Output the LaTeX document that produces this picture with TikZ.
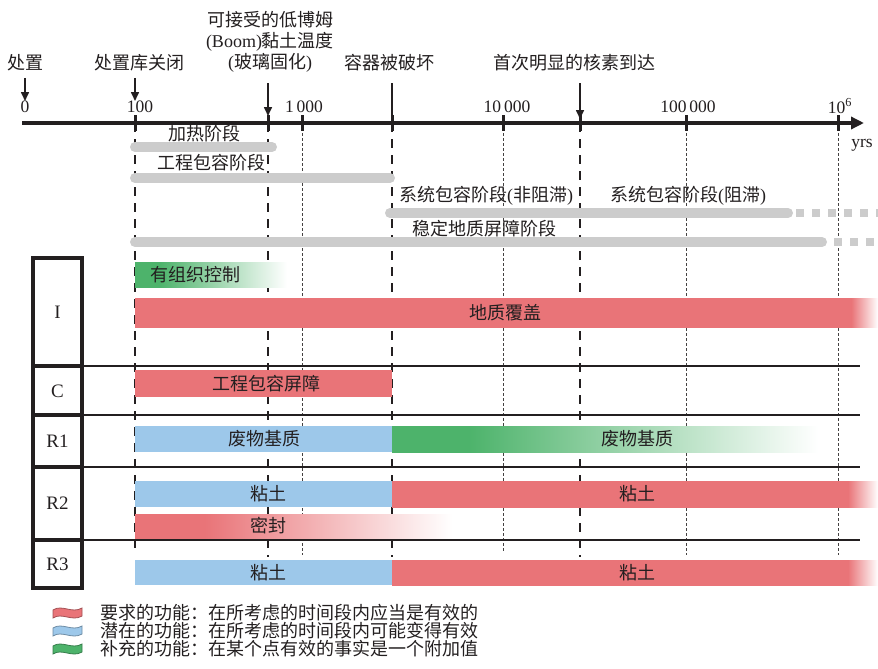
\documentclass[tikz,border=0pt]{standalone}
\usepackage{fontspec}
\setmainfont{Liberation Serif}
\newfontfamily\cjk{Noto Sans CJK SC}
\usetikzlibrary{arrows.meta,calc}
\definecolor{myred}{RGB}{233,116,120}
\definecolor{myblue}{RGB}{157,200,234}
\definecolor{mygreen}{RGB}{77,179,107}
\definecolor{mygrey}{RGB}{204,204,204}
\definecolor{ink}{RGB}{35,31,32}
% horizontal fades: path bbox maps to 25bp..75bp
\pgfdeclarehorizontalshading{fadeorg}{100bp}{color(0bp)=(mygreen); color(25bp)=(mygreen); color(33bp)=(mygreen); color(75bp)=(white); color(100bp)=(white)}
\pgfdeclarehorizontalshading{fadecover}{100bp}{color(0bp)=(myred); color(25bp)=(myred); color(73.2bp)=(myred); color(75bp)=(white); color(100bp)=(white)}
\pgfdeclarehorizontalshading{fadematrix}{100bp}{color(0bp)=(mygreen); color(25bp)=(mygreen); color(34bp)=(mygreen); color(75bp)=(white); color(100bp)=(white)}
\pgfdeclarehorizontalshading{fadeclay}{100bp}{color(0bp)=(myred); color(25bp)=(myred); color(71.9bp)=(myred); color(75bp)=(white); color(100bp)=(white)}
\pgfdeclarehorizontalshading{fadeseal}{100bp}{color(0bp)=(myred); color(25bp)=(myred); color(36bp)=(myred); color(75bp)=(white); color(100bp)=(white)}
\begin{document}
\begin{tikzpicture}[x=1pt,y=-1pt,
  lbl/.style={font=\cjk\fontsize{18}{20}\selectfont, text=ink, inner sep=0pt},
  num/.style={font=\fontsize{17.5}{19}\selectfont, text=ink, inner sep=0pt},
  rowlbl/.style={font=\fontsize{19}{21}\selectfont, text=ink, inner sep=0pt},
  thickdash/.style={line width=2.6pt, dash pattern=on 9pt off 7pt, draw=ink},
  thindash/.style={line width=0.8pt, dash pattern=on 3pt off 2pt, draw=ink!85},
  phase/.style={line width=10pt, draw=mygrey, line cap=round},
  phasedash/.style={line width=8pt, draw=mygrey, dash pattern=on 8pt off 8pt},
  rowbox/.style={draw=ink, line width=4pt},
  sepline/.style={line width=1.2pt, draw=ink},
  tickmark/.style={line width=3pt, draw=ink},
  downarrow/.style={line width=1.6pt, draw=ink, -{Triangle[length=9pt,width=8pt]}},
  flag/.style={line width=0.8pt}
]
\useasboundingbox (0,0) rectangle (878,669);

% ---- key x positions
\foreach \n/\x in {a/135,b/268,c/302,d/392,e/503,f/580,g/686,h/838}{
  \coordinate (top\n) at (\x,123);
}
\coordinate (bota) at (135,552);
\coordinate (botb) at (268,557);
\coordinate (botc) at (302,555);
\coordinate (botd) at (392,557);
\coordinate (bote) at (503,552);
\coordinate (botf) at (580,557);
\coordinate (botg) at (686,555);
\coordinate (both) at (838,555);

% ---- vertical guide lines
\draw[thickdash] (topa) -- (bota);
\draw[thickdash] (topb) -- (botb);
\draw[thindash] (topc) -- (botc);
\draw[thickdash] (topd) -- (botd);
\draw[thindash] (tope) -- (bote);
\draw[thickdash] (topf) -- (botf);
\draw[thindash] (topg) -- (botg);
\draw[thindash] (toph) -- (both);

% ---- axis
\coordinate (axs) at (22,123);
\coordinate (axe) at (864,123);
\draw[line width=4pt, ink, -{Triangle[length=13pt,width=12pt]}] (axs) -- (axe);
\foreach \n in {a,b,c,d,e,f,g,h}{
  \draw[tickmark] ($(top\n)+(0,-8)$) -- ($(top\n)+(0,8)$);
}

% tick labels
\node[num] (n0) at (25,107) {0};
\node[num] (n100) at (140,107) {100};
\node[num] (n1000) at (304,107) {1\,000};
\node[num] (n10k) at (507,107) {10\,000};
\node[num] (n100k) at (688,107) {100\,000};
\node[num] (n1m) at (840,106) {10\textsuperscript{6}};
\node[num] (yrs) at (862,145) {yrs};

% ---- event labels and arrows
\node[lbl] (ev0) at (26,63) {处置};
\node[lbl] (ev1) at (139,63) {处置库关闭};
\node[lbl] (ev2a) at (270,20) {可接受的低博姆};
\node[lbl] (ev2b) at (270,42) {{\rmfamily (Boom)}黏土温度};
\node[lbl] (ev2c) at (270,63) {{\rmfamily (}玻璃固化{\rmfamily )}};
\node[lbl] (ev3) at (389,63) {容器被破坏};
\node[lbl] (ev4) at (574,63) {首次明显的核素到达};

\coordinate (ar0s) at (25,78);   \coordinate (ar0e) at (25,101);
\coordinate (ar1s) at (135,78);  \coordinate (ar1e) at (135,101);
\coordinate (ar2s) at (268,83);  \coordinate (ar2e) at (268,116);
\coordinate (ar3s) at (392,83);
\coordinate (ar4s) at (580,83);  \coordinate (ar4e) at (580,119);
\draw[downarrow] (ar0s) -- (ar0e);
\draw[downarrow] (ar1s) -- (ar1e);
\draw[downarrow] (ar2s) -- (ar2e);
\draw[line width=1.6pt, ink] (ar3s) -- (topd);
\draw[downarrow] (ar4s) -- (ar4e);

% ---- phase bars
\draw[phase] (135,147) -- (272,147);
\draw[phase] (135,178) -- (390,178);
\draw[phase] (390,213) -- (788,213);
\draw[phasedash] (796,213) -- (878,213);
\draw[phase] (135,242) -- (822,242);
\draw[phasedash] (834,242) -- (878,242);
\node[lbl] (ph1) at (204,134) {加热阶段};
\node[lbl] (ph2) at (211,163) {工程包容阶段};
\node[lbl] (ph3) at (486,196) {系统包容阶段{\rmfamily (}非阻滞{\rmfamily )}};
\node[lbl] (ph4) at (688,196) {系统包容阶段{\rmfamily (}阻滞{\rmfamily )}};
\node[lbl] (ph5) at (484,229) {稳定地质屏障阶段};

% ---- row boxes
\draw[rowbox] (33,258) rectangle (82,366);
\draw[rowbox] (33,366) rectangle (82,415);
\draw[rowbox] (33,415) rectangle (82,467);
\draw[rowbox] (33,467) rectangle (82,540);
\draw[rowbox] (33,540) rectangle (82,588);
\node[rowlbl] (rI) at (57.5,312) {I};
\node[rowlbl] (rC) at (57.5,391) {C};
\node[rowlbl] (rR1) at (57.5,441) {R1};
\node[rowlbl] (rR2) at (57.5,503) {R2};
\node[rowlbl] (rR3) at (57.5,564) {R3};

\foreach \y in {366,415,467,540}{
  \draw[sepline] (82,\y) -- (860,\y);
}

% ---- bars
% I: organised control (green fading)
\shade[shading=fadeorg] (135,262) rectangle (287,287);
\node[lbl, anchor=west] (b1) at (150,274.5) {有组织控制};
% I: geological cover
\shade[shading=fadecover] (135,298) rectangle (878,327);
\node[lbl] (b2) at (505,312.5) {地质覆盖};
% C
\fill[myred] (135,370) rectangle (392,397);
\node[lbl] (b3) at (266,383.5) {工程包容屏障};
% R1
\fill[myblue] (135,426) rectangle (392,452);
\node[lbl] (b4) at (264,439) {废物基质};
\shade[shading=fadematrix] (392,426) rectangle (818,452);
\node[lbl] (b5) at (637,439) {废物基质};
% R2
\fill[myblue] (135,481) rectangle (392,507);
\node[lbl] (b6) at (268,494) {粘土};
\shade[shading=fadeclay] (392,481) rectangle (878,507);
\node[lbl] (b7) at (637,494) {粘土};
\shade[shading=fadeseal] (135,514) rectangle (452,538);
\node[lbl] (b8) at (268,526) {密封};
% R3
\fill[myblue] (135,560) rectangle (392,585);
\node[lbl] (b9) at (268,572.5) {粘土};
\shade[shading=fadeclay] (392,560) rectangle (878,585);
\node[lbl] (b10) at (637,572.5) {粘土};

% ---- legend
\foreach \y/\c in {613/myred,631/myblue,649/mygreen}{
  \draw[flag, fill=\c, draw=\c!70!black]
    (53,\y-3) .. controls (62,\y-9) and (72,\y+1) .. (82,\y-5)
    -- (82,\y+3) .. controls (72,\y+9) and (62,\y-1) .. (53,\y+5) -- cycle;
}
\node[lbl, anchor=west] (lg1) at (100,613) {要求的功能：在所考虑的时间段内应当是有效的};
\node[lbl, anchor=west] (lg2) at (100,631) {潜在的功能：在所考虑的时间段内可能变得有效};
\node[lbl, anchor=west] (lg3) at (100,649) {补充的功能：在某个点有效的事实是一个附加值};
\end{tikzpicture}
\end{document}
